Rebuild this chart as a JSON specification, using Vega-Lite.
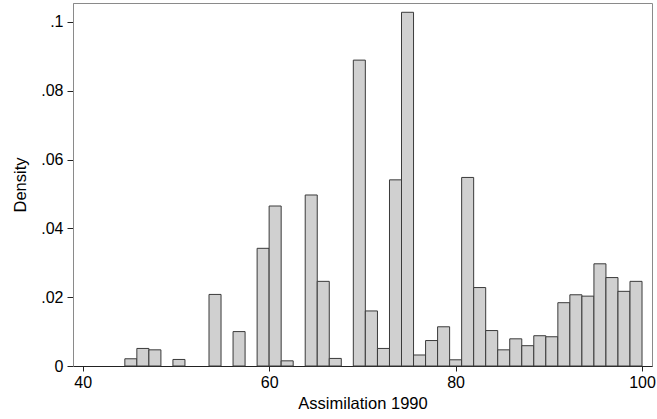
{
  "$schema": "https://vega.github.io/schema/vega-lite/v6.json",
  "width": 579,
  "height": 363,
  "autosize": {"type": "none"},
  "padding": {"left": 73, "top": 3, "right": 5, "bottom": 53},
  "background": "white",
  "config": {
    "view": {"stroke": "#8a8a8a", "strokeWidth": 1},
    "font": "Liberation Sans"
  },
  "data": {
    "values": [
      {"start": 44.52, "end": 45.81, "density": 0.0021},
      {"start": 45.81, "end": 47.10, "density": 0.0051},
      {"start": 47.10, "end": 48.39, "density": 0.0047},
      {"start": 49.68, "end": 50.97, "density": 0.0019},
      {"start": 53.55, "end": 54.84, "density": 0.0208},
      {"start": 56.13, "end": 57.42, "density": 0.0100},
      {"start": 58.71, "end": 60.00, "density": 0.0342},
      {"start": 60.00, "end": 61.29, "density": 0.0465},
      {"start": 61.29, "end": 62.58, "density": 0.0015},
      {"start": 63.87, "end": 65.16, "density": 0.0497},
      {"start": 65.16, "end": 66.45, "density": 0.0246},
      {"start": 66.45, "end": 67.74, "density": 0.0022},
      {"start": 69.03, "end": 70.32, "density": 0.0889},
      {"start": 70.32, "end": 71.62, "density": 0.0160},
      {"start": 71.62, "end": 72.91, "density": 0.0051},
      {"start": 72.91, "end": 74.20, "density": 0.0541},
      {"start": 74.20, "end": 75.49, "density": 0.1028},
      {"start": 75.49, "end": 76.78, "density": 0.0032},
      {"start": 76.78, "end": 78.07, "density": 0.0074},
      {"start": 78.07, "end": 79.36, "density": 0.0114},
      {"start": 79.36, "end": 80.65, "density": 0.0018},
      {"start": 80.65, "end": 81.94, "density": 0.0548},
      {"start": 81.94, "end": 83.23, "density": 0.0228},
      {"start": 83.23, "end": 84.52, "density": 0.0103},
      {"start": 84.52, "end": 85.81, "density": 0.0047},
      {"start": 85.81, "end": 87.10, "density": 0.0079},
      {"start": 87.10, "end": 88.39, "density": 0.0059},
      {"start": 88.39, "end": 89.68, "density": 0.0088},
      {"start": 89.68, "end": 90.97, "density": 0.0085},
      {"start": 90.97, "end": 92.26, "density": 0.0184},
      {"start": 92.26, "end": 93.55, "density": 0.0207},
      {"start": 93.55, "end": 94.84, "density": 0.0203},
      {"start": 94.84, "end": 96.13, "density": 0.0297},
      {"start": 96.13, "end": 97.42, "density": 0.0257},
      {"start": 97.42, "end": 98.71, "density": 0.0217},
      {"start": 98.71, "end": 100.00, "density": 0.0246}
    ]
  },
  "mark": {"type": "rect", "fill": "#d0d0d0", "stroke": "#3a3a3a", "strokeWidth": 1},
  "encoding": {
    "x": {
      "field": "start",
      "type": "quantitative",
      "scale": {"domain": [38.96, 101.07], "nice": false, "zero": false},
      "axis": {
        "title": "Assimilation 1990",
        "values": [40, 60, 80, 100],
        "grid": false,
        "domainColor": "#222222",
        "tickColor": "#222222",
        "tickSize": 5,
        "labelFontSize": 16,
        "labelColor": "#000000",
        "labelPadding": 3,
        "titleFontSize": 16.5,
        "titleFontWeight": "normal",
        "titleColor": "#000000",
        "titlePadding": 5
      }
    },
    "x2": {"field": "end"},
    "y": {
      "field": "density",
      "type": "quantitative",
      "scale": {"domain": [0, 0.1055], "nice": false},
      "axis": {
        "title": "Density",
        "values": [0, 0.02, 0.04, 0.06, 0.08, 0.1],
        "labelExpr": "datum.value == 0 ? '0' : substring(format(datum.value, '.2~f'), 1)",
        "grid": false,
        "domainColor": "#8a8a8a",
        "tickColor": "#222222",
        "tickSize": 6,
        "labelFontSize": 16,
        "labelColor": "#000000",
        "labelPadding": 4,
        "titleFontSize": 16.5,
        "titleFontWeight": "normal",
        "titleColor": "#000000",
        "titlePadding": 12
      }
    },
    "y2": {"datum": 0}
  }
}
